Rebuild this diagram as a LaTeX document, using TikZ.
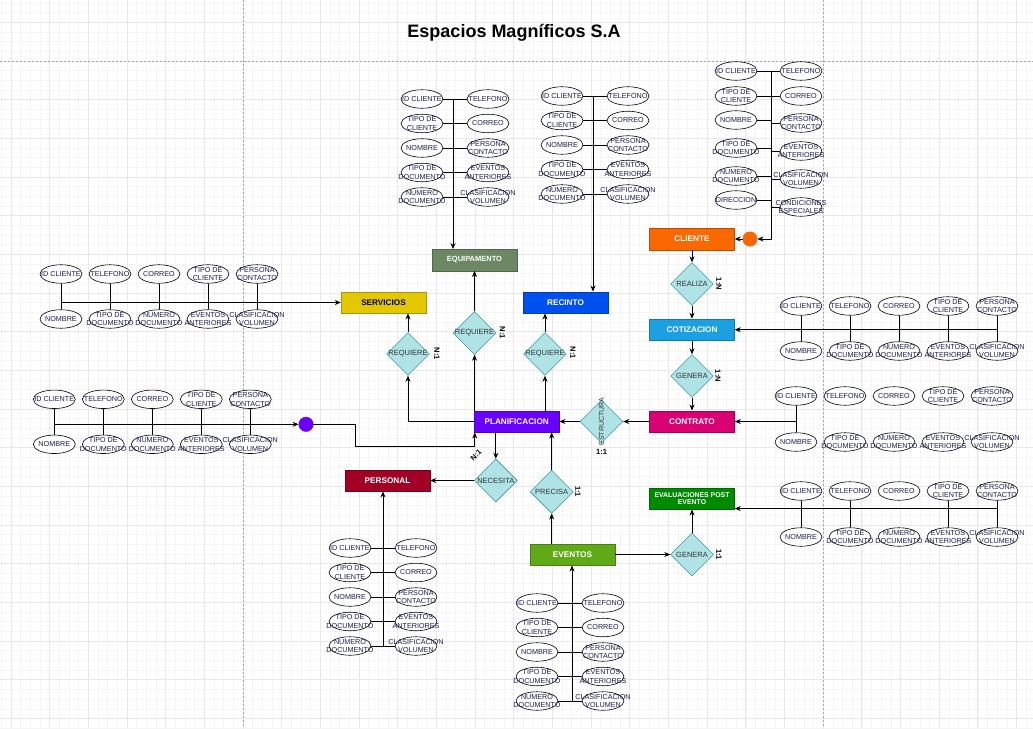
\documentclass[tikz,border=0pt]{standalone}
\usepackage{fontspec}
\setmainfont{Liberation Sans}
\usetikzlibrary{shapes.geometric,arrows.meta}
\definecolor{clientec}{HTML}{FA6800}
\definecolor{equipc}{HTML}{6D8764}
\definecolor{servc}{HTML}{E3C800}
\definecolor{recintoc}{HTML}{0050EF}
\definecolor{cotizc}{HTML}{1BA1E2}
\definecolor{contratoc}{HTML}{D80073}
\definecolor{planifc}{HTML}{6A00FF}
\definecolor{personalc}{HTML}{A20025}
\definecolor{evalc}{HTML}{008A00}
\definecolor{eventosc}{HTML}{60A917}
\definecolor{relfondo}{HTML}{B0E3E6}
\definecolor{relborde}{HTML}{0E8088}
\definecolor{attrtxt}{HTML}{1C1C50}
\definecolor{reltxt}{HTML}{333333}
\begin{document}
\begin{tikzpicture}[x=1pt,y=-1pt,
    attr/.style={ellipse,draw,fill=white,line width=0.6pt,minimum width=42pt,minimum height=18.5pt,inner sep=0pt,
      label={[attrlbl]center:#1}},
    attrlbl/.style={font=\fontsize{7.2}{8.5}\selectfont,align=center,text=attrtxt,inner sep=0pt},
    ent/.style={rectangle,draw=#1!75!black,fill=#1,minimum width=85pt,minimum height=21.5pt,inner sep=2pt,
      text=white,font=\bfseries\fontsize{8.2}{8.5}\selectfont,align=center},
    rel/.style={diamond,draw=relborde,fill=relfondo,minimum width=43pt,minimum height=43pt,inner sep=0pt,
      label={[rellbl]center:#1}},
    rellbl/.style={font=\fontsize{7.5}{8}\selectfont,text=reltxt,inner sep=0pt},
    card/.style={font=\bfseries\fontsize{7.5}{8}\selectfont,inner sep=0pt},
    punto/.style={circle,draw=#1,fill=#1,minimum size=14.5pt,inner sep=0pt},
    con/.style={line width=0.75pt},
    flecha/.style={con,-{Stealth[length=6pt,width=5pt]}},
    rejilla/.style={line width=0.4pt,black!4},
    rejillag/.style={line width=0.5pt,black!9},
    pagina/.style={line width=0.6pt,black!35,dash pattern=on 2pt off 2pt},
    titulo/.style={font=\bfseries\fontsize{18}{20}\selectfont}]
\useasboundingbox (0,0) rectangle (1033,728);
\fill[white] (0,0) rectangle (1033,728);
% rejilla de fondo
\foreach \i in {0,...,106} \draw[rejilla] ({1.333+\i*9.667},0) -- ++(0,728);
\foreach \j in {0,...,75} \draw[rejilla] (0,{3+\j*9.667}) -- ++(1033,0);
\foreach \i in {0,...,26} \draw[rejillag] ({11+\i*38.667},0) -- ++(0,728);
\foreach \j in {0,...,18} \draw[rejillag] (0,{22.33+\j*38.667}) -- ++(1033,0);
\draw[pagina] (243,0) -- (243,728);
\draw[pagina] (823,0) -- (823,728);
\draw[pagina] (0,61) -- (1033,61);

\node[titulo] (titulo) at (514,33) {Espacios Magníficos S.A};

% entidades
\node[ent=clientec] (cliente) at (692,239) {CLIENTE};
\node[ent=equipc,font=\bfseries\fontsize{7.5}{8}\selectfont] (equip) at (474.5,260) {EQUIPAMENTO};
\node[ent=servc,text=black] (servicios) at (383.5,302.5) {SERVICIOS};
\node[ent=recintoc] (recinto) at (565.5,302.5) {RECINTO};
\node[ent=cotizc] (cotizacion) at (692,329.7) {COTIZACION};
\node[ent=contratoc] (contrato) at (692,421.5) {CONTRATO};
\node[ent=planifc] (planif) at (516.7,421.5) {PLANIFICACION};
\node[ent=personalc] (personal) at (387.5,480.5) {PERSONAL};
\node[ent=evalc,font=\bfseries\fontsize{6.9}{7.7}\selectfont] (evaluaciones) at (692,498.5) {EVALUACIONES POST\\EVENTO};
\node[ent=eventosc] (eventos) at (572.5,554.5) {EVENTOS};

% relaciones
\node[rel=REALIZA] (realiza) at (692,284) {};
\node[rel=GENERA] (genera1) at (692,376) {};
\node[rel=REQUIERE] (requiere1) at (408,354) {};
\node[rel=REQUIERE] (requiere2) at (474.5,333) {};
\node[rel=REQUIERE] (requiere3) at (545,354) {};
\node[rel={},label={[rellbl,font=\fontsize{7}{8}\selectfont,rotate=90]center:ESTRUCTURA}] (estructura) at (601.5,421.5) {};
\node[rel=NECESITA] (necesita) at (495.8,480.5) {};
\node[rel=PRECISA] (precisa) at (551.7,491.8) {};
\node[rel=GENERA] (genera2) at (692,554.5) {};

% cardinalidades
\node[card,rotate=-90] (card1) at (719,284) {1:N};
\node[card,rotate=-90] (card2) at (718,376) {1:N};
\node[card,rotate=-90] (card3) at (437,354) {N:1};
\node[card,rotate=-90] (card4) at (502.5,333) {N:1};
\node[card,rotate=-90] (card5) at (573,353) {N:1};
\node[card] (card6) at (601.5,452) {1:1};
\node[card,rotate=45] (card7) at (476,455) {N:1};
\node[card,rotate=-90] (card8) at (578,491.7) {1:1};
\node[card,rotate=-90] (card9) at (719,554.5) {1:1};

% atributos de CLIENTE
\coordinate (busCli) at (771,71);
\coordinate (busCliB) at (771,239);
\foreach \a/\ya/\b/\yb [count=\i] in {ID CLIENTE/71/TELEFONO/71, TIPO DE\\CLIENTE/96/CORREO/96,
    NOMBRE/120/PERSONA\\CONTACTO/123, TIPO DE\\DOCUMENTO/148/EVENTOS\\ANTERIORES/151,
    NUMERO\\DOCUMENTO/176/CLASIFICACION\\VOLUMEN/179, DIRECCION/200/CONDICIONES\\ESPECIALES/207}
{
  \node[attr=\a] (cli\i) at (736,\ya) {};
  \node[attr=\b] (crd\i) at (801,\yb) {};
  \draw[con] (cli\i.east) -- (cli\i.east -| busCli);
  \draw[con] (crd\i.west) -- (crd\i.west -| busCli);
}
\node[punto=clientec] (puntocli) at (750,239) {};
\draw[flecha] (busCli) -- (busCliB) -- (puntocli);
\draw[flecha] (puntocli) -- (cliente);

% atributos de EQUIPAMENTO, RECINTO, PERSONAL y EVENTOS
\foreach \p/\xl/\xb/\xr/\ys in {eq/422/453/488/99, re/562/593/628/96, pe/350/383/416/548, ev/537/572/603/603}
{
  \coordinate (bus\p) at (\xb,\ys);
  \foreach \a/\b [count=\i from 0] in {ID CLIENTE/TELEFONO, TIPO DE\\CLIENTE/CORREO, NOMBRE/PERSONA\\CONTACTO,
      TIPO DE\\DOCUMENTO/EVENTOS\\ANTERIORES, NUMERO\\DOCUMENTO/CLASIFICACION\\VOLUMEN}
  {
    \node[attr=\a] (\p l\i) at (\xl,{\ys+24.5*\i}) {};
    \node[attr=\b] (\p r\i) at (\xr,{\ys+24.5*\i}) {};
    \draw[con] (\p l\i.east) -- (\p l\i.east -| bus\p);
    \draw[con] (\p r\i.west) -- (\p r\i.west -| bus\p);
  }
  \coordinate (fin\p) at (\xb,{\ys+98});
}
\draw[flecha] (buseq) -- (buseq |- equip.north);
\draw[flecha] (busre) -- (busre |- recinto.north);
\draw[flecha] (finpe) -- (finpe |- personal.south);
\draw[flecha] (finev) -- (finev |- eventos.south);

% atributos en filas: SERVICIOS, COTIZACION, CONTRATO, PLANIFICACION, EVALUACIONES
\foreach \p/\x/\yt/\yb in {se/12/274/319, co/752/306/351, ct/747/396/442, pl/5.3/399.3/444.3, va/752/491/537}
{
  \foreach \a/\b [count=\i] in {ID CLIENTE/NOMBRE, TELEFONO/TIPO DE\\DOCUMENTO, CORREO/NUMERO\\DOCUMENTO,
      TIPO DE\\CLIENTE/EVENTOS\\ANTERIORES, PERSONA\\CONTACTO/CLASIFICACION\\VOLUMEN}
  {
    \node[attr=\a] (\p t\i) at ({\x+49*\i},\yt) {};
    \node[attr=\b] (\p b\i) at ({\x+49*\i},\yb) {};
  }
}
\foreach \i in {1,...,5} {
  \draw[con] (set\i) -- (seb\i);
  \draw[con] (cot\i) -- (cob\i);
  \draw[con] (plt\i) -- (plb\i);
}
\foreach \i in {1,2,4,5} \draw[con] (vat\i) -- (vab\i);
\draw[con] (ctt1) -- (ctb1);

\coordinate (busse) at (61,302.5);
\draw[flecha] (busse) -- (servicios.west);
\coordinate (busco) at (997,329.7);
\draw[flecha] (busco) -- (cotizacion.east);
\coordinate (busct) at (796,421.5);
\draw[flecha] (busct) -- (contrato.east);
\coordinate (busva) at (997,508.5);
\draw[flecha] (busva) -- (busva -| evaluaciones.east);
\coordinate (buspl) at (54.3,424.3);
\node[punto=planifc] (puntoplan) at (306,424.3) {};
\draw[flecha] (buspl) -- (puntoplan);
\coordinate (codo1) at (355,424.3);
\coordinate (codo2) at (355,446);
\draw[flecha] (puntoplan) -- (codo1) -- (codo2) -| ([xshift=0.8pt]planif.south west);

% conexiones entre entidades y relaciones
\draw[flecha] (cliente) -- (realiza);
\draw[flecha] (realiza) -- (cotizacion);
\draw[flecha] (cotizacion) -- (genera1);
\draw[flecha] (genera1) -- (contrato);
\draw[flecha] (contrato) -- (estructura);
\draw[flecha] (estructura) -- (planif);
\draw[flecha] (planif.west) -| (requiere1);
\draw[flecha] (requiere1) -- (requiere1 |- servicios.south);
\draw[flecha] (requiere2 |- planif.north) -- (requiere2);
\draw[flecha] (requiere2) -- (equip);
\draw[flecha] (requiere3 |- planif.north) -- (requiere3);
\draw[flecha] (requiere3) -- (requiere3 |- recinto.south);
\draw[flecha] (necesita |- planif.south) -- (necesita);
\draw[flecha] (necesita) -- (personal);
\draw[flecha] (precisa) -- (precisa |- planif.south);
\draw[flecha] (precisa |- eventos.north) -- (precisa);
\draw[flecha] (eventos) -- (genera2);
\draw[flecha] (genera2) -- (evaluaciones);
\end{tikzpicture}
\end{document}
